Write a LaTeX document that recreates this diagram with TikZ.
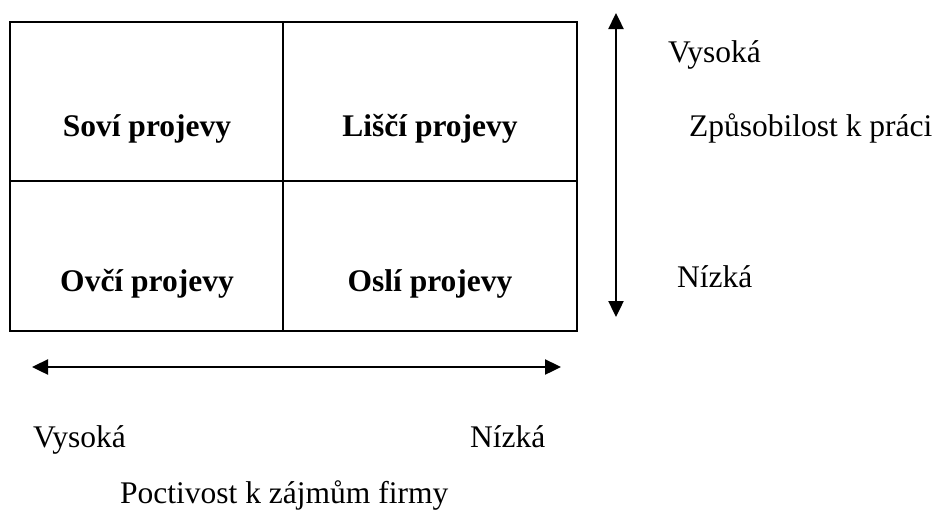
\documentclass[tikz,border=0pt]{standalone}
\usepackage{fontspec}
\setmainfont{Liberation Serif}
\usetikzlibrary{arrows.meta}
\begin{document}
\begin{tikzpicture}[x=1pt,y=-1pt,
  gridline/.style={line width=2pt},
  axis/.style={line width=2.4pt,{Triangle[length=16pt,width=15pt]}-{Triangle[length=16pt,width=15pt]}},
  celltext/.style={font=\fontsize{31.5}{36}\selectfont\bfseries,anchor=base,inner sep=0pt},
  label/.style={font=\fontsize{31.5}{36}\selectfont,anchor=base west,inner sep=0pt}]
\useasboundingbox (0,0) rectangle (937,512);
% 2x2 matrix
\draw[gridline] (10,22) rectangle (577,331);
\draw[gridline] (283,22) -- (283,331);
\draw[gridline] (10,181) -- (577,181);
\node[celltext] (owl)   at (147,136) {Soví projevy};
\node[celltext] (fox)   at (430,136) {Liščí projevy};
\node[celltext] (sheep) at (147,291) {Ovčí projevy};
\node[celltext] (donkey) at (430,291) {Oslí projevy};
% vertical axis: ability to work
\coordinate (vtop) at (616,13);
\coordinate (vbot) at (616,317);
\draw[axis] (vtop) -- (vbot);
\node[label] (vhigh) at (668,62) {Vysoká};
\node[label] (vtitle) at (689,136) {Způsobilost k práci};
\node[label] (vlow) at (677,287) {Nízká};
% horizontal axis: loyalty to the firm
\coordinate (hleft) at (32,367);
\coordinate (hright) at (561,367);
\draw[axis] (hleft) -- (hright);
\node[label] (hhigh) at (33,447) {Vysoká};
\node[label] (hlow) at (470,447) {Nízká};
\node[label] (htitle) at (120,503) {Poctivost k zájmům firmy};
\end{tikzpicture}
\end{document}
